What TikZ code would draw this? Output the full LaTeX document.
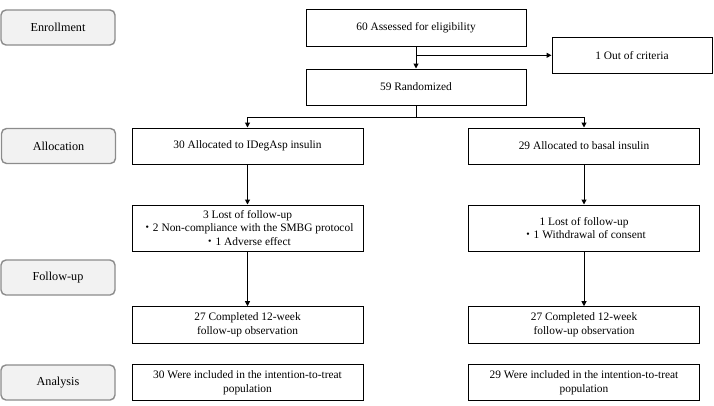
\documentclass[tikz,border=0pt]{standalone}
\usepackage{fontspec}
\setmainfont{Liberation Serif}
\newfontfamily\cjk{Noto Sans CJK JP}
\usetikzlibrary{arrows.meta}
\begin{document}
\begin{tikzpicture}[x=1pt,y=-1pt,
  stage/.style={draw=black!45,line width=1.4pt,fill=black!5,rounded corners=5pt,minimum width=114pt,minimum height=35pt,inner sep=0pt,font=\fontsize{12.2}{14}\selectfont},
  box/.style={draw=black,line width=1pt,minimum height=36pt,inner sep=0pt,align=center,font=\fontsize{11.4}{13.5}\selectfont},
  wbox/.style={box,minimum width=231pt},
  arr/.style={draw=black,line width=1pt,-{Triangle[width=5pt,length=5pt]}},
  ln/.style={draw=black,line width=1pt}]
\useasboundingbox (0,0) rectangle (714,405);
% stage labels
\node[stage] (enr) at (58,27.5) {Enrollment};
\node[stage] (alc) at (58.5,146) {Allocation};
\node[stage] (fol) at (58,277.5) {Follow-up};
\node[stage] (ana) at (58,382.5) {Analysis};
% main boxes
\node[box,minimum width=220pt,minimum height=37pt] (assess) at (416,27.5) {60 Assessed for eligibility};
\node[box,minimum width=220pt] (rand) at (416,87) {59 Randomized};
\node[box,minimum width=160pt] (out) at (632,55.3) {1 Out of criteria};
\node[wbox] (la) at (247.5,146) {30 Allocated to IDegAsp insulin};
\node[wbox] (ra) at (584,146) {29 Allocated to basal insulin};
\node[wbox,minimum height=46pt] (ll) at (247.5,228) {3 Lost of follow-up\\{\cjk ・}2 Non-compliance with the SMBG protocol\\{\cjk ・}1 Adverse effect};
\node[wbox,minimum height=46pt] (rl) at (584,228) {1 Lost of follow-up\\{\cjk ・}1 Withdrawal of consent};
\node[wbox,minimum height=36.6pt] (lc) at (247.5,325) {27 Completed 12-week\\follow-up observation};
\node[wbox,minimum height=36.6pt] (rc) at (584,325) {27 Completed 12-week\\follow-up observation};
\node[wbox] (lan) at (247.5,382.5) {30 Were included in the intention-to-treat\\population};
\node[wbox] (ran) at (584,382.5) {29 Were included in the intention-to-treat\\population};
% connectors
\coordinate (j1) at (assess.south |- 0,55.3);
\draw[arr] (assess.south) -- (rand.north);
\draw[arr] (j1) -- (out.west);
\coordinate (j2) at (rand.south |- 0,117.3);
\draw[ln] (rand.south) -- (j2);
\draw[arr] (j2) -| (la.north);
\draw[arr] (j2) -| (ra.north);
\draw[arr] (la.south) -- (ll.north);
\draw[arr] (ra.south) -- (rl.north);
\draw[arr] (ll.south) -- (lc.north);
\draw[arr] (rl.south) -- (rc.north);
\end{tikzpicture}
\end{document}
